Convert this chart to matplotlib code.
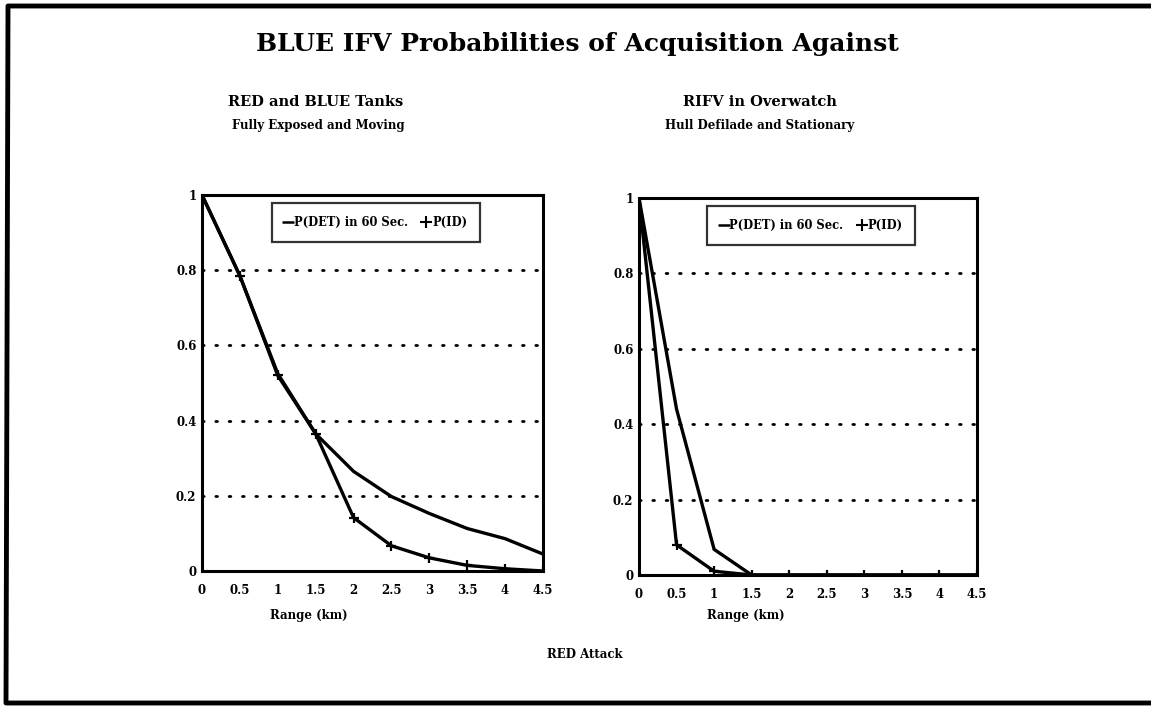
import matplotlib
matplotlib.use("Agg")
import matplotlib.pyplot as plt
from matplotlib.lines import Line2D

# ---- data ----
range_km = [0, 0.5, 1, 1.5, 2, 2.5, 3, 3.5, 4, 4.5]
x_ticks = [0, 0.5, 1, 1.5, 2, 2.5, 3, 3.5, 4, 4.5]
x_tick_labels = ["0", "0.5", "1", "1.5", "2", "2.5", "3", "3.5", "4", "4.5"]
y_ticks = [0, 0.2, 0.4, 0.6, 0.8, 1]
y_tick_labels = ["0", "0.2", "0.4", "0.6", "0.8", "1"]

tanks_pdet = [1.0, 0.785, 0.525, 0.365, 0.265, 0.198, 0.153, 0.113, 0.086, 0.045]
tanks_pid = [1.0, 0.785, 0.52, 0.365, 0.142, 0.067, 0.035, 0.015, 0.006, 0.0]

rifv_pdet = [1.0, 0.44, 0.068, 0.0, 0.0, 0.0, 0.0, 0.0, 0.0, 0.0]
rifv_pid = [1.0, 0.08, 0.01, 0.0, 0.0, 0.0, 0.0, 0.0, 0.0, 0.0]

title = "BLUE IFV Probabilities of Acquisition Against"
left_title = "RED and BLUE Tanks"
left_sub = "Fully Exposed and Moving"
right_title = "RIFV in Overwatch"
right_sub = "Hull Defilade and Stationary"
xlabel = "Range (km)"
footer = "RED Attack"
legend_labels = ["P(DET) in 60 Sec.", "P(ID)"]

FONT = "DejaVu Serif"
W, H = 1151, 707
fig = plt.figure(figsize=(W / 100, H / 100), dpi=100)
fig.patch.set_facecolor("white")

def fx(px):
    return px / W

def fy(py):
    return 1 - py / H

# outer border (left, top, bottom)
fig.add_artist(Line2D([fx(W), fx(8), fx(6), fx(W)], [fy(6), fy(6), fy(703), fy(703)],
                      color="black", lw=3.5, transform=fig.transFigure))

fig.text(fx(577), fy(44), title, ha="center", va="center", family=FONT,
         weight="bold", fontsize=18)
fig.text(fx(316), fy(102), left_title, ha="center", va="center", family=FONT,
         weight="bold", fontsize=10.5)
fig.text(fx(318), fy(125), left_sub, ha="center", va="center", family=FONT,
         weight="bold", fontsize=8.5)
fig.text(fx(760), fy(102), right_title, ha="center", va="center", family=FONT,
         weight="bold", fontsize=10.5)
fig.text(fx(760), fy(125), right_sub, ha="center", va="center", family=FONT,
         weight="bold", fontsize=8.5)
fig.text(fx(585), fy(655), footer, ha="center", va="center", family=FONT,
         weight="bold", fontsize=8.5)

def make_ax(rect, pdet, pid, label_x):
    ax = fig.add_axes(rect)
    ax.plot(range_km, pdet, color="black", lw=2.4, solid_joinstyle="miter")
    ax.plot(range_km, pid, color="black", lw=2.4, marker="+", ms=7, mew=1.6)
    ax.set_xlim(0, 4.5)
    ax.set_ylim(0, 1)
    ax.set_xticks(x_ticks)
    ax.set_xticklabels(x_tick_labels)
    ax.set_yticks(y_ticks)
    ax.set_yticklabels(y_tick_labels)
    for gy in y_ticks[1:-1]:
        ax.axhline(gy, color="black", lw=2.0, linestyle=(0, (0.6, 4.2)),
                   dash_capstyle="round")
    for s in ax.spines.values():
        s.set_linewidth(2.2)
    ax.tick_params(axis="x", length=0, pad=9, labelsize=8.5)
    ax.tick_params(axis="y", length=0, pad=4, labelsize=8.5)
    for lab in ax.get_xticklabels() + ax.get_yticklabels():
        lab.set_family(FONT)
        lab.set_weight("bold")
    handles = [Line2D([], [], color="black", marker="_", ms=8, mew=1.8, ls="none"),
               Line2D([], [], color="black", marker="+", ms=8, mew=1.5, ls="none")]
    leg = ax.legend(handles, legend_labels, loc="upper center",
                    bbox_to_anchor=(0.51, 0.993), ncol=2, frameon=True,
                    fancybox=False, edgecolor="black", handlelength=0.6,
                    handletextpad=0.2, columnspacing=1.3, borderpad=1.1,
                    prop={"family": FONT, "weight": "bold", "size": 8.3})
    leg.get_frame().set_linewidth(1.6)
    fig.text(fx(label_x), fy(615), xlabel, ha="center", va="center",
             family=FONT, weight="bold", fontsize=8.5)
    return ax

make_ax([fx(202), fy(571), fx(543) - fx(202), fy(195) - fy(571)],
        tanks_pdet, tanks_pid, 309)
make_ax([fx(639), fy(575), fx(977) - fx(639), fy(198) - fy(575)],
        rifv_pdet, rifv_pid, 746)

fig.savefig("out.png", dpi=100, facecolor="white")
